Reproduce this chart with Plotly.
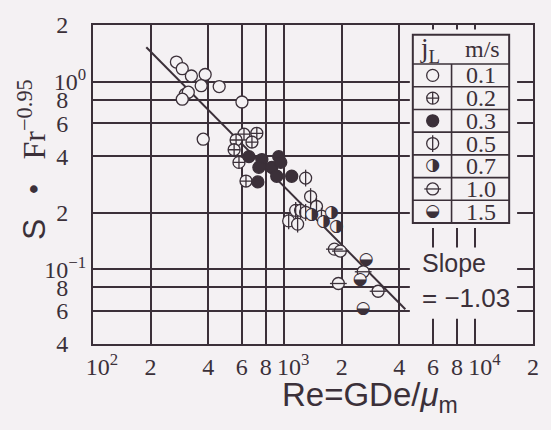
import numpy as np
import plotly.graph_objects as go

INK = "#3b3039"
BG = "#f4f1f3"

# ---------------- data ----------------
re_01 = [273, 293, 327, 386, 368, 457, 304, 315, 293, 377, 601]
s_01 = [1.27, 1.17, 1.07, 1.09, 0.95, 0.94, 0.855, 0.877, 0.805, 0.493, 0.778]
re_02 = [616, 719, 560, 678, 547, 580, 631]
s_02 = [0.524, 0.530, 0.488, 0.476, 0.433, 0.371, 0.295]
re_03 = [654, 764, 936, 737, 861, 959, 728, 914, 1094]
s_03 = [0.398, 0.384, 0.398, 0.349, 0.349, 0.371, 0.292, 0.313, 0.313]
re_05 = [1294, 1374, 1148, 1218, 1294, 1055, 1175, 1475, 1566]
s_05 = [0.306, 0.244, 0.206, 0.206, 0.201, 0.181, 0.174, 0.216, 0.192]
re_07 = [1390, 1765, 1874, 1604]
s_07 = [0.196, 0.201, 0.168, 0.179]
re_10 = [1830, 1966, 1919, 3097, 2588]
s_10 = [0.128, 0.125, 0.084, 0.0764, 0.097]
re_15 = [2683, 2497, 2588]
s_15 = [0.112, 0.088, 0.0615]

fit_slope = -1.03
fit_coef = 10 ** 2.53
fit_re = [190, 4300]

jl_labels = ["0.1", "0.2", "0.3", "0.5", "0.7", "1.0", "1.5"]

NB = "\u00a0"
x_tickvals = [100, 200, 400, 600, 800, 1000, 2000, 4000, 6000, 8000, 10000, 20000]
x_ticktext = [NB * 3 + "10<sup>2</sup>", "2", "4", "6", "8", NB * 3 + "10<sup>3</sup>", "2", "4", "6", "8",
              NB * 3 + "10<sup>4</sup>", "2"]
y_tickvals = [0.04, 0.06, 0.08, 0.1, 0.2, 0.4, 0.6, 0.8, 1, 2]
y_ticktext = ["4" + NB * 3, "6" + NB * 3, "8" + NB * 3, "10<sup>−1</sup>", "2" + NB * 3,
              "4" + NB * 3, "6" + NB * 3, "8" + NB * 3, "10<sup>0</sup>", "2" + NB * 3]

X_RANGE = [2, np.log10(2e4)]
Y_RANGE = [np.log10(0.04), np.log10(2)]

# ---------------- geometry helpers ----------------
W, H = 551, 430
ML, MR, MT, MB = 93, 15, 17, 86
PW, PH = W - ML - MR, H - MT - MB


def fx(px):
    return (px - ML) / PW


def fy(py):
    return (H - MB - py) / PH


def dx(px):  # pixel -> data value on the log x axis (shape coordinates)
    return 10 ** (X_RANGE[0] + fx(px) * (X_RANGE[1] - X_RANGE[0]))


def dy(py):
    return 10 ** (Y_RANGE[0] + fy(py) * (Y_RANGE[1] - Y_RANGE[0]))


MS = 12
LW = 1.3
fig = go.Figure()


def add_symbol(kind, xs, ys, xa="x", ya="y"):
    base = dict(xaxis=xa, yaxis=ya, showlegend=False, hoverinfo="skip")
    if kind == "open":
        fig.add_trace(go.Scatter(x=xs, y=ys, mode="markers", marker=dict(
            symbol="circle", size=MS, color=BG, line=dict(color=INK, width=LW)), **base))
    elif kind == "cross":
        fig.add_trace(go.Scatter(x=xs, y=ys, mode="markers", marker=dict(
            symbol="circle-cross", size=MS, color=BG, line=dict(color=INK, width=LW)), **base))
    elif kind == "filled":
        fig.add_trace(go.Scatter(x=xs, y=ys, mode="markers", marker=dict(
            symbol="circle", size=MS, color=INK, line=dict(color=INK, width=LW)), **base))
    elif kind in ("vbar", "hbar"):
        fig.add_trace(go.Scatter(x=xs, y=ys, mode="markers", marker=dict(
            symbol="circle", size=MS, color=BG, line=dict(color=INK, width=LW)), **base))
        fig.add_trace(go.Scatter(x=xs, y=ys, mode="markers", marker=dict(
            symbol="line-ns-open" if kind == "vbar" else "line-ew-open", size=MS,
            color=INK, line=dict(color=INK, width=LW)), **base))
    elif kind in ("right", "lower"):
        fig.add_trace(go.Scatter(x=xs, y=ys, mode="markers", marker=dict(
            symbol="circle", size=MS - 1, color=BG, line=dict(width=0)), **base))
        fig.add_trace(go.Scatter(x=xs, y=ys, mode="text",
                                 text=["◑" if kind == "right" else "◒"] * len(xs),
                                 textposition="middle center",
                                 textfont=dict(family="DejaVu Sans", size=17, color=INK), **base))


# fit line
fit_s = [fit_coef * r ** fit_slope for r in fit_re]
fig.add_trace(go.Scatter(x=fit_re, y=fit_s, mode="lines", line=dict(color=INK, width=2),
                         showlegend=False, hoverinfo="skip"))

series = [("open", re_01, s_01), ("cross", re_02, s_02), ("filled", re_03, s_03),
          ("vbar", re_05, s_05), ("right", re_07, s_07), ("hbar", re_10, s_10),
          ("lower", re_15, s_15)]
for kind, xs, ys in series:
    add_symbol(kind, xs, ys)

# legend table geometry (pixels)
LX0, LX1, LDIV = 415, 512, 454
LY0, LHEAD, LY1 = 27, 57, 220
row_h = (LY1 - LHEAD) / len(jl_labels)
row_c = [LHEAD + row_h * (i + 0.5) for i in range(len(jl_labels))]

for i, (kind, _, _) in enumerate(series):
    add_symbol(kind, [fx(435)], [fy(row_c[i])], "x2", "y2")

shapes = []
S = dict(xref="x", yref="y", layer="between")
# masks hiding the grid behind the legend table and the slope text
for (y0, y1) in [(21.5, 225), (245, 318)]:
    shapes.append(dict(type="rect", x0=dx(412), x1=dx(520), y0=dy(y1), y1=dy(y0),
                       fillcolor=BG, line=dict(width=0), **S))
# table frame
shapes.append(dict(type="rect", x0=dx(LX0), x1=dx(LX1), y0=dy(LY1), y1=dy(LY0),
                   line=dict(color=INK, width=2), **S))
for k in range(len(jl_labels)):
    yy = LHEAD + row_h * k
    shapes.append(dict(type="line", x0=dx(LX0), x1=dx(LX1), y0=dy(yy), y1=dy(yy),
                       line=dict(color=INK, width=1.6), **S))
shapes.append(dict(type="line", x0=dx(LDIV), x1=dx(LDIV), y0=dy(LY1), y1=dy(LHEAD),
                   line=dict(color=INK, width=1.6), **S))

ann = []
SERIF = "Liberation Serif"
SANS = "Liberation Sans"
ann.append(dict(x=fx(432), y=fy(43), text="j<sub>L</sub>", font=dict(family=SERIF, size=27, color=INK)))
ann.append(dict(x=fx(485), y=fy(42), text="m/s", font=dict(family=SERIF, size=24, color=INK)))
for i, lab in enumerate(jl_labels):
    ann.append(dict(x=fx(484), y=fy(row_c[i]), text=lab, font=dict(family=SERIF, size=24, color=INK)))
ann.append(dict(x=fx(456), y=fy(261), text="Slope", font=dict(family=SANS, size=25, color=INK)))
ann.append(dict(x=fx(469), y=fy(297), text="= −1.03", font=dict(family=SANS, size=26, color=INK)))
ann.append(dict(x=fx(372), y=fy(398), text="Re=GDe/<i>μ</i><sub>m</sub>",
                font=dict(family=SANS, size=33, color=INK)))
ann.append(dict(x=fx(31), y=fy(155), textangle=-90,
                text=('<span style="font-family:Liberation Sans">S</span>' + NB * 3 + '•' + NB * 3 +
                      'Fr<sup>−0.95</sup>'),
                font=dict(family=SERIF, size=32, color=INK)))
for a in ann:
    a.update(xref="paper", yref="paper", showarrow=False, xanchor="center", yanchor="middle")

axis_common = dict(type="log", showgrid=True, gridcolor=INK, gridwidth=1.5, showline=True,
                   linecolor=INK, linewidth=2, mirror=True, ticks="", zeroline=False,
                   tickfont=dict(family=SERIF, size=24, color=INK))

fig.update_layout(
    width=W, height=H, margin=dict(l=ML, r=MR, t=MT, b=MB),
    paper_bgcolor=BG, plot_bgcolor=BG,
    xaxis=dict(range=X_RANGE, tickvals=x_tickvals, ticktext=x_ticktext,
               tickangle=0, **axis_common),
    yaxis=dict(range=Y_RANGE, tickvals=y_tickvals, ticktext=y_ticktext,
               **axis_common),
    xaxis2=dict(overlaying="x", range=[0, 1], visible=False, fixedrange=True),
    yaxis2=dict(overlaying="y", range=[0, 1], visible=False, fixedrange=True),
    shapes=shapes, annotations=ann, showlegend=False,
)

fig.write_html("out.html")
